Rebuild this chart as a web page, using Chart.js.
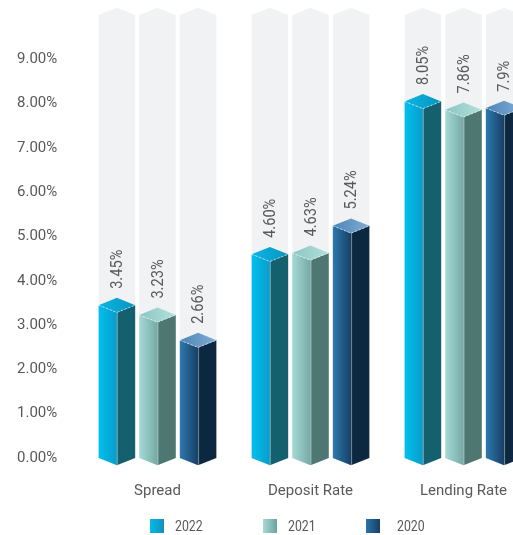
<!DOCTYPE html>
<html>
<head>
<meta charset="utf-8">
<script src="https://cdn.jsdelivr.net/npm/chart.js@4.4.1/dist/chart.umd.min.js"></script>
<style>
  html, body { margin: 0; padding: 0; overflow: hidden; background: #ffffff; width: 513px; height: 535px; }
  #wrap { width: 540px; height: 535px; }
  canvas { display: block; }
</style>
</head>
<body>
<div id="wrap"><canvas id="c" width="540" height="535"></canvas></div>
<script>
// ---------- DATA ----------
const categories = ['Spread', 'Deposit Rate', 'Lending Rate'];
const seriesNames = ['2022', '2021', '2020'];
const values2022 = [3.45, 4.60, 8.05];
const values2021 = [3.23, 4.63, 7.86];
const values2020 = [2.66, 5.24, 7.90];
const valueLabels2022 = ['3.45%', '4.60%', '8.05%'];
const valueLabels2021 = ['3.23%', '4.63%', '7.86%'];
const valueLabels2020 = ['2.66%', '5.24%', '7.9%'];
const yTickLabels = ['0.00%', '1.00%', '2.00%', '3.00%', '4.00%', '5.00%', '6.00%', '7.00%', '8.00%', '9.00%'];
const columnMax = 10; // height of the grey background columns

// ---------- STYLES ----------
const FONT = "Roboto, 'Liberation Sans', sans-serif";
const TEXT = '#58595b';
const styles = [
  { left: ['#00c0ec', '#0a9ccb'], right: '#14606f', top: ['#0ab6e4', '#0a94bf'], legend: ['#00bce9', '#1690ba'] },
  { left: ['#a6d9d5', '#74aaa6'], right: '#4d7770', top: ['#8cc6c1', '#b2e0dc'], legend: ['#a8dad6', '#6ca39f'] },
  { left: ['#2d79ae', '#173f66'], right: '#0c2840', top: ['#4e85b7', '#80acd4'], legend: ['#2b74a9', '#173e64'] }
];
const legendBoxX = [150, 263, 366];
const legendTextX = [175, 288, 397];
const valueLabelSets = [valueLabels2022, valueLabels2021, valueLabels2020];

const prism3d = {
  id: 'prism3d',
  beforeDatasetsDraw(chart) {
    const ctx = chart.ctx;
    const ys = chart.scales.y;
    const top = ys.getPixelForValue(columnMax);
    const base = ys.getPixelForValue(0);
    chart.data.datasets.forEach((ds, di) => {
      chart.getDatasetMeta(di).data.forEach(el => {
        const { x, width } = el.getProps(['x', 'width'], true);
        const d = width * 0.2;
        const xl = x - width / 2, xr = x + width / 2;
        ctx.save();
        ctx.fillStyle = '#f1f2f4';
        ctx.beginPath();
        ctx.moveTo(xl, top); ctx.lineTo(x, top - d); ctx.lineTo(xr, top);
        ctx.lineTo(xr, base); ctx.lineTo(x, base + d); ctx.lineTo(xl, base);
        ctx.closePath(); ctx.fill();
        ctx.restore();
      });
    });
  },
  afterDatasetsDraw(chart) {
    const ctx = chart.ctx;
    chart.data.datasets.forEach((ds, di) => {
      const st = styles[di];
      chart.getDatasetMeta(di).data.forEach((el, i) => {
        const { x, y, base, width } = el.getProps(['x', 'y', 'base', 'width'], true);
        const d = width * 0.2;
        const xl = x - width / 2, xr = x + width / 2;
        ctx.save();
        // left face
        let g = ctx.createLinearGradient(xl, 0, x, 0);
        g.addColorStop(0, st.left[0]); g.addColorStop(1, st.left[1]);
        ctx.fillStyle = g;
        ctx.beginPath();
        ctx.moveTo(xl, y); ctx.lineTo(x, y + d); ctx.lineTo(x, base + d); ctx.lineTo(xl, base);
        ctx.closePath(); ctx.fill();
        // right face
        ctx.fillStyle = st.right;
        ctx.beginPath();
        ctx.moveTo(x, y + d); ctx.lineTo(xr, y); ctx.lineTo(xr, base); ctx.lineTo(x, base + d);
        ctx.closePath(); ctx.fill();
        // top face
        g = ctx.createLinearGradient(xl, 0, xr, 0);
        g.addColorStop(0, st.top[0]); g.addColorStop(1, st.top[1]);
        ctx.fillStyle = g;
        ctx.beginPath();
        ctx.moveTo(xl, y); ctx.lineTo(x, y - d); ctx.lineTo(xr, y); ctx.lineTo(x, y + d);
        ctx.closePath(); ctx.fill();
        // highlight edges
        ctx.strokeStyle = 'rgba(255,255,255,0.4)';
        ctx.lineWidth = 1;
        ctx.beginPath();
        ctx.moveTo(x + 0.5, y + d); ctx.lineTo(x + 0.5, base + d);
        ctx.stroke();
        ctx.setLineDash([2, 2]);
        ctx.strokeStyle = 'rgba(255,255,255,0.6)';
        ctx.beginPath();
        ctx.moveTo(xl, y); ctx.lineTo(x, y + d); ctx.lineTo(xr, y);
        ctx.stroke();
        ctx.setLineDash([]);
        // value label (condensed look)
        ctx.translate(x, y - d - 9);
        ctx.rotate(-Math.PI / 2);
        ctx.scale(0.86, 1);
        ctx.font = '17px ' + FONT;
        ctx.fillStyle = TEXT;
        ctx.textAlign = 'left';
        ctx.textBaseline = 'middle';
        ctx.fillText(valueLabelSets[di][i], 0, 1);
        ctx.restore();
      });
    });
  },
  afterDraw(chart) {
    const ctx = chart.ctx;
    const cy = 526;
    chart.data.datasets.forEach((ds, di) => {
      const st = styles[di];
      const bx = legendBoxX[di];
      ctx.save();
      const g = ctx.createLinearGradient(bx, 0, bx + 14, 0);
      g.addColorStop(0, st.legend[0]); g.addColorStop(1, st.legend[1]);
      ctx.fillStyle = g;
      ctx.fillRect(bx, cy - 7, 14, 14);
      ctx.translate(legendTextX[di], cy + 1);
      ctx.scale(0.82, 1);
      ctx.font = '15px ' + FONT;
      ctx.fillStyle = TEXT;
      ctx.textAlign = 'left';
      ctx.textBaseline = 'middle';
      ctx.fillText(ds.label, 0, 0);
      ctx.restore();
    });
  }
};

const seriesValues = [values2022, values2021, values2020];
new Chart(document.getElementById('c'), {
  type: 'bar',
  data: {
    labels: categories,
    datasets: seriesNames.map((name, i) => ({
      label: name,
      data: seriesValues[i],
      backgroundColor: 'rgba(0,0,0,0)',
      borderWidth: 0,
      categoryPercentage: 0.796,
      barPercentage: 0.9
    }))
  },
  options: {
    responsive: false,
    animation: false,
    devicePixelRatio: 1,
    layout: { padding: { top: 15, right: 0, bottom: 35, left: 17 } },
    plugins: { legend: { display: false }, tooltip: { enabled: false } },
    scales: {
      x: {
        afterFit(scale) { scale.height = 42; },
        grid: { display: false, drawTicks: false },
        border: { display: false },
        ticks: { color: TEXT, font: { family: FONT, size: 15 }, padding: 24, maxRotation: 0, autoSkip: false }
      },
      y: {
        min: 0, max: columnMax,
        afterFit(scale) { scale.width = 64; },
        grid: { display: false, drawTicks: false },
        border: { display: false },
        ticks: {
          stepSize: 1,
          color: TEXT,
          font: { family: FONT, size: 15 },
          padding: 0,
          crossAlign: 'far',
          callback: (v, i) => (yTickLabels[i] !== undefined ? yTickLabels[i] : null)
        }
      }
    }
  },
  plugins: [prism3d]
});
</script>
</body>
</html>
